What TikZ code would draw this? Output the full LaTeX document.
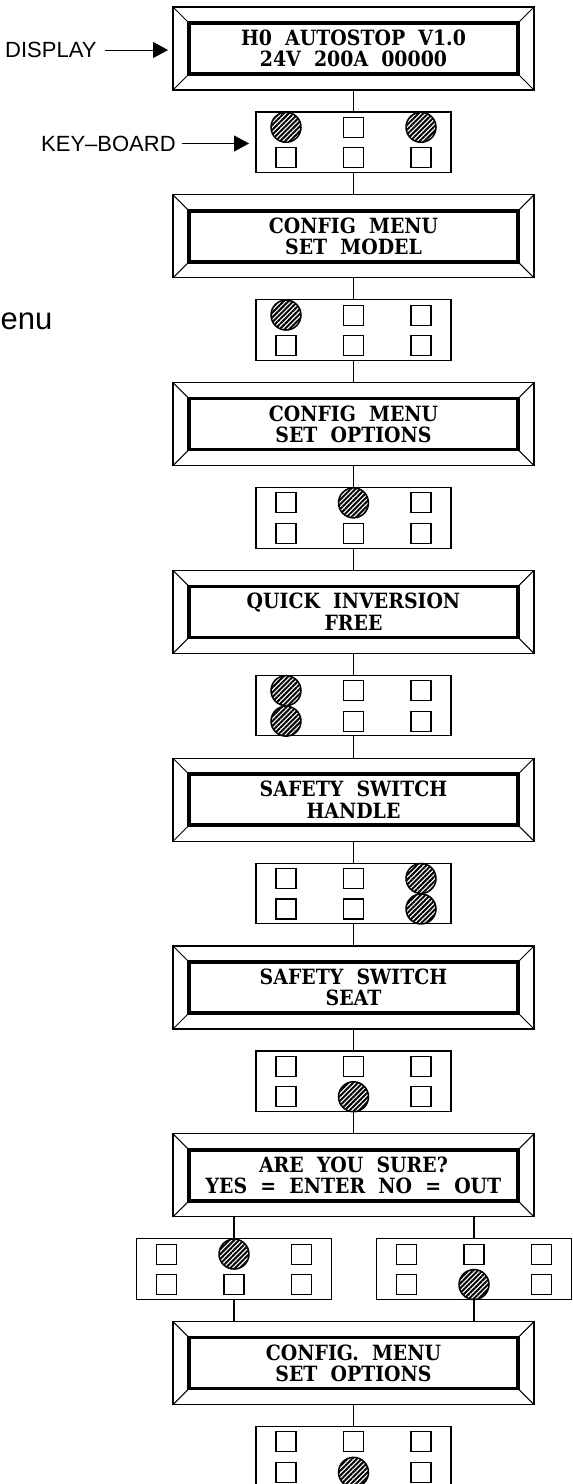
\documentclass[tikz,border=0pt]{standalone}
\usepackage{fontspec}
\setmainfont{Liberation Sans}
\newfontfamily\dispfam[WordSpace=2,FakeStretch=0.9]{DejaVu Serif}
\usetikzlibrary{patterns.meta,arrows.meta}
\newcommand\dispbox[4]{% name, cx, top, text
  \node[outerbox] (#1) at (#2,#3+41.5) {};
  \node[innerbox] (#1-in) at (#1.center) {};
  \node[disptext] (#1-t) at (#1.center) {#4};
  \foreach \a in {north west,north east,south west,south east}
    \draw[bevel] (#1.\a) -- (#1-in.\a);
}
\newcommand\kbdbox[4]{% name, cx, top, pressed list
  \node[kbframe] (#1) at (#2,#3+30.25) {};
  \foreach \c in {1,2,3}
    \foreach \r in {1,2}
      \node[keysq] (#1-\c-\r) at (#2+\c*67.5-135,#3+\r*30.5-15.25) {};
  \foreach \c/\r in {#4}
    \node[pressed] (#1-p-\c-\r) at (#1-\c-\r) {};
}
\begin{document}
\begin{tikzpicture}[x=1pt,y=-1pt,
  outerbox/.style={draw,line width=1.1pt,minimum width=361pt,minimum height=83pt,inner sep=0pt,outer sep=0pt},
  innerbox/.style={draw,line width=3.6pt,minimum width=329pt,minimum height=51pt,inner sep=0pt,outer sep=0pt},
  disptext/.style={font=\dispfam\bfseries\fontsize{21}{21.5}\selectfont,align=center,inner sep=0pt},
  bevel/.style={line width=1pt},
  kbframe/.style={draw,line width=1.1pt,minimum width=195pt,minimum height=60.5pt,inner sep=0pt,outer sep=0pt},
  keysq/.style={draw,line width=1.1pt,minimum size=20pt,inner sep=0pt,outer sep=0pt},
  pressed/.style={circle,draw,line width=1.5pt,minimum size=30pt,inner sep=0pt,outer sep=0pt,
    preaction={fill=white},pattern={Lines[angle=45,distance=3.4pt,line width=2pt]}},
  conn/.style={line width=1.1pt},
  lbl/.style={font=\fontsize{22}{22}\selectfont,inner sep=0pt},
  arr/.style={line width=1pt,-{Triangle[length=15pt,width=16pt]}}
]
\useasboundingbox (0,0) rectangle (573,1484);
\clip (0,0) rectangle (573,1484);

\dispbox{d0}{353.5}{7}{H0 AUTOSTOP V1.0\\24V 200A 00000}
\kbdbox{k0}{353.5}{112}{1/1,3/1}
\dispbox{d1}{353.5}{194.8}{CONFIG MENU\\SET MODEL}
\kbdbox{k1}{353.5}{299.8}{1/1}
\dispbox{d2}{353.5}{382.6}{CONFIG MENU\\SET OPTIONS}
\kbdbox{k2}{353.5}{487.6}{2/1}
\dispbox{d3}{353.5}{570.4}{QUICK INVERSION\\FREE}
\kbdbox{k3}{353.5}{675.4}{1/1,1/2}
\dispbox{d4}{353.5}{758.2}{SAFETY SWITCH\\HANDLE}
\kbdbox{k4}{353.5}{863.2}{3/1,3/2}
\dispbox{d5}{353.5}{946}{SAFETY SWITCH\\SEAT}
\kbdbox{k5}{353.5}{1051}{2/2}
\dispbox{d6}{353.5}{1133.8}{ARE YOU SURE?\\YES = ENTER NO = OUT}
\kbdbox{k6a}{234}{1238.8}{2/1}
\kbdbox{k6b}{474}{1238.8}{2/2}
\dispbox{d7}{353.5}{1321.6}{CONFIG. MENU\\SET OPTIONS}
\kbdbox{k7}{353.5}{1426.6}{2/2}

\draw[conn] (d0.south) -- (k0.north);
\draw[conn] (k0.south) -- (d1.north);
\draw[conn] (d1.south) -- (k1.north);
\draw[conn] (k1.south) -- (d2.north);
\draw[conn] (d2.south) -- (k2.north);
\draw[conn] (k2.south) -- (d3.north);
\draw[conn] (d3.south) -- (k3.north);
\draw[conn] (k3.south) -- (d4.north);
\draw[conn] (d4.south) -- (k4.north);
\draw[conn] (k4.south) -- (d5.north);
\draw[conn] (d5.south) -- (k5.north);
\draw[conn] (k5.south) -- (d6.north);
\draw[conn] (k6a.north |- d6.south) -- (k6a.north);
\draw[conn] (k6b.north |- d6.south) -- (k6b.north);
\draw[conn] (k6a.south) -- (k6a.south |- d7.north);
\draw[conn] (k6b.south) -- (k6b.south |- d7.north);
\draw[conn] (d7.south) -- (k7.north);

\node[lbl,anchor=west] (lab1) at (5,50) {DISPLAY};
\node[lbl,anchor=west] (lab2) at (41,143.5) {KEY--BOARD};
\draw[arr] ([xshift=8pt]lab1.east) -- ([xshift=-5pt]lab1.east -| d0.west);
\draw[arr] ([xshift=6pt]lab2.east) -- ([xshift=-7pt]lab2.east -| k0.west);

\node[font=\fontsize{31}{31}\selectfont,anchor=base west,inner sep=0pt] (menu) at (0.5,329) {enu};
\end{tikzpicture}
\end{document}
